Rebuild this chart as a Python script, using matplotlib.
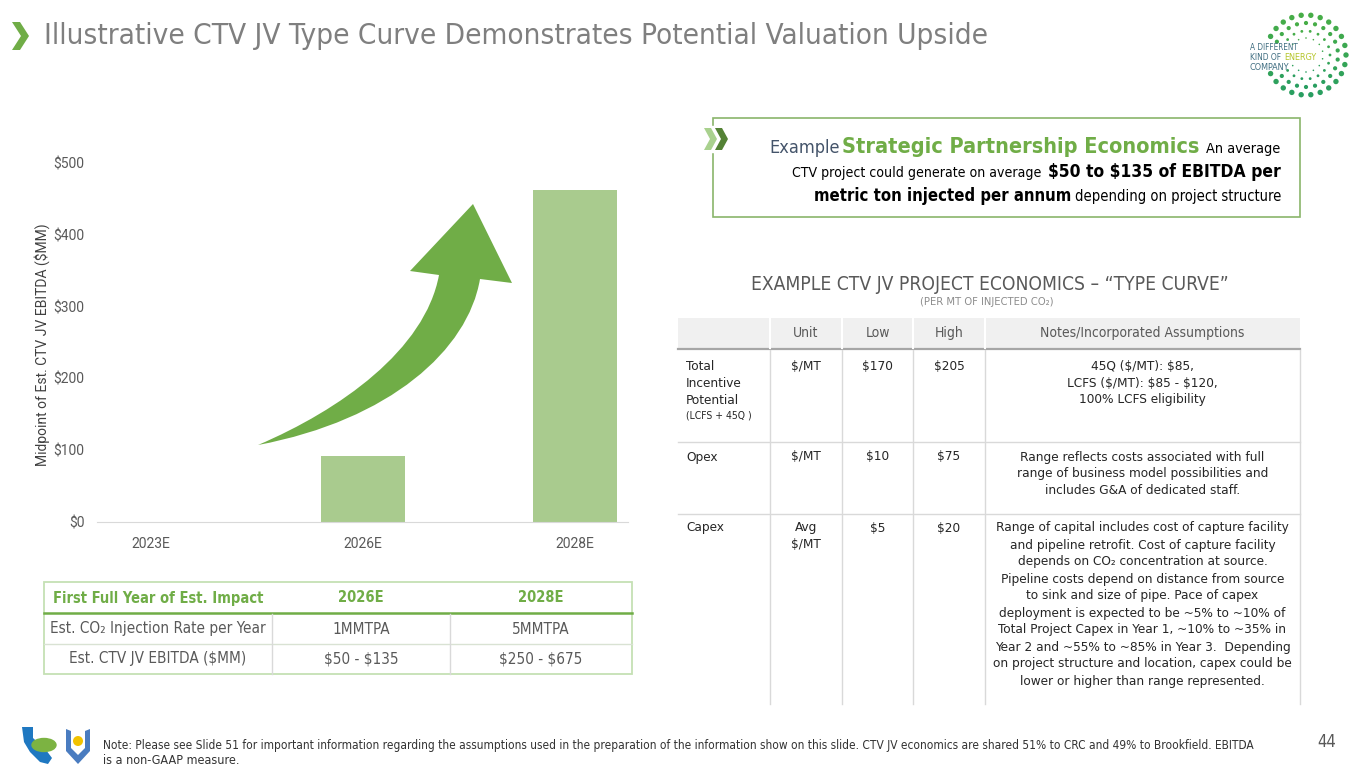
"""Slide 44: illustrative CTV JV type curve (bar chart + two tables + callout)."""
import matplotlib

matplotlib.use("Agg")
import matplotlib.pyplot as plt  # noqa: E402
import numpy as np  # noqa: E402
from matplotlib import font_manager  # noqa: E402
from matplotlib.lines import Line2D  # noqa: E402
from matplotlib.patches import Ellipse, PathPatch, Polygon, Rectangle  # noqa: E402
from matplotlib.path import Path  # noqa: E402

# --- data -------------------------------------------------------------------
years = ["2023E", "2026E", "2028E"]
ebitda_mid = [0, 92.5, 462.5]          # midpoint of est. CTV JV EBITDA, $MM
y_ticks = [0, 100, 200, 300, 400, 500]

impact_header = ["First Full Year of Est. Impact", "2026E", "2028E"]
impact_rows = [
    ["Est. CO₂ Injection Rate per Year", "1MMTPA", "5MMTPA"],
    ["Est. CTV JV EBITDA ($MM)", "$50 - $135", "$250 - $675"],
]

tc_header = ["Unit", "Low", "High", "Notes/Incorporated Assumptions"]
tc_items = [["Total", "Incentive", "Potential"], ["Opex"], ["Capex"]]
tc_units = [["$/MT"], ["$/MT"], ["Avg", "$/MT"]]
tc_low = ["$170", "$10", "$5"]
tc_high = ["$205", "$75", "$20"]
tc_notes = [
    ["45Q ($/MT): $85,", "LCFS ($/MT): $85 - $120,", "100% LCFS eligibility"],
    ["Range reflects costs associated with full",
     "range of business model possibilities and",
     "includes G&A of dedicated staff."],
    ["Range of capital includes cost of capture facility",
     "and pipeline retrofit. Cost of capture facility",
     "depends on CO₂ concentration at source.",
     "Pipeline costs depend on distance from source",
     "to sink and size of pipe. Pace of capex",
     "deployment is expected to be ~5% to ~10% of",
     "Total Project Capex in Year 1, ~10% to ~35% in",
     "Year 2 and ~55% to ~85% in Year 3.  Depending",
     "on project structure and location, capex could be",
     "lower or higher than range represented."],
]

TITLE = "Illustrative CTV JV Type Curve Demonstrates Potential Valuation Upside"
NOTE = ["Note: Please see Slide 51 for important information regarding the assumptions used in the "
        "preparation of the information show on this slide. CTV JV economics are shared 51% to CRC "
        "and 49% to Brookfield. EBITDA",
        "is a non-GAAP measure."]

GREEN = "#70ad47"
BAR = "#a9cb8e"
GREY = "#595959"
INK = "#262626"

# --- fonts ------------------------------------------------------------------
avail = {f.name for f in font_manager.fontManager.ttflist}
COND = "Liberation Sans Narrow" if "Liberation Sans Narrow" in avail else "DejaVu Sans"
REG = "Roboto" if "Roboto" in avail else "DejaVu Sans"
CF = dict(family=[COND, "DejaVu Sans"], stretch="condensed")
RF = dict(family=[REG, "DejaVu Sans"])

W, H = 1365, 768
fig = plt.figure(figsize=(W / 100, H / 100), dpi=100)
renderer = fig.canvas.get_renderer()


def fx(x):
    return x / W


def fy(y):
    return 1 - y / H


def put(x, y, s, size=10, width=None, font=CF, **kw):
    kw.setdefault("va", "center")
    t = fig.text(fx(x), fy(y), s, fontsize=size, parse_math=False, **font, **kw)
    if width:
        t.set_fontsize(size * width / t.get_window_extent(renderer).width)
    return t


def line(xs, ys, color, lw=1.0):
    fig.add_artist(Line2D([fx(v) for v in xs], [fy(v) for v in ys], color=color, lw=lw))


def poly(pts, **kw):
    fig.add_artist(Polygon([(fx(a), fy(b)) for a, b in pts], closed=True,
                           transform=fig.transFigure, **kw))


def dot(x, y, r, color):
    fig.add_artist(Ellipse((fx(x), fy(y)), 2 * r / W, 2 * r / H, color=color, lw=0,
                           transform=fig.transFigure))


# --- title + logo -----------------------------------------------------------
poly([(12, 22), (20, 22), (29, 36), (20, 50), (12, 50), (21, 36)], color=GREEN, lw=0)
put(44, 36, TITLE, size=22, width=943, color="#7f7f7f")

cx, cy = 1306, 55
for ring, (r, n, s) in enumerate(((40, 26, 2.7), (32, 22, 2.1), (24, 18, 1.4), (17, 14, 0.8))):
    for k in range(n):
        deg = (k + 0.5 * (ring % 2)) * 360 / n
        if 158 < deg < 207:
            continue
        a = np.deg2rad(deg)
        shade = 0.5 + 0.5 * np.sin(a)
        col = (0.16 + 0.12 * shade, 0.62 + 0.06 * shade, 0.38 - 0.1 * shade)
        dot(cx + r * np.cos(a), cy - r * np.sin(a), s, col)
put(1250, 47, "A DIFFERENT", size=8, width=48, color="#3f6d80", ha="left")
put(1250, 57.5, "KIND OF", size=8, width=31, color="#3f6d80", ha="left")
put(1284, 57.5, "ENERGY", size=8, width=33, color="#b5c52a", ha="left")
put(1250, 67.5, "COMPANY", size=8, width=40, color="#3f6d80", ha="left")

# --- bar chart --------------------------------------------------------------
ax = fig.add_axes([fx(97), fy(522), (628 - 97) / W, (522 - 163) / H])
xpos = np.arange(len(years))
ax.bar(xpos, ebitda_mid, width=0.4, color=BAR, zorder=2)
ax.set_xlim(-0.255, 2.25)
ax.set_ylim(0, 500)
ax.set_yticks(y_ticks, labels=[f"${v}" for v in y_ticks])
ax.set_xticks(xpos, labels=years)
ax.tick_params(length=0, labelsize=10, colors=GREY)
ax.tick_params(axis="y", pad=9)
ax.tick_params(axis="x", pad=11)
for lbl in ax.get_xticklabels() + ax.get_yticklabels():
    lbl.set_family(RF["family"])
for side in ("top", "right", "left"):
    ax.spines[side].set_visible(False)
ax.spines["bottom"].set_color("#d9d9d9")
put(42, 345, "Midpoint of Est. CTV JV EBITDA ($MM)", size=10, font=RF,
    color="#404040", rotation=90, ha="center")

# curved growth arrow (decoration drawn in slide pixels)
arrow = [(258, 445), (340, 410), (425, 350), (439, 275), (410, 271), (473, 204),
         (512, 283), (480, 279), (468, 350), (390, 420), (258, 445), (258, 445)]
codes = [Path.MOVETO, Path.CURVE4, Path.CURVE4, Path.CURVE4, Path.LINETO, Path.LINETO,
         Path.LINETO, Path.LINETO, Path.CURVE4, Path.CURVE4, Path.CURVE4, Path.CLOSEPOLY]
fig.add_artist(PathPatch(Path([(fx(a), fy(b)) for a, b in arrow], codes),
                         color=GREEN, lw=0, transform=fig.transFigure))

# --- lower-left summary table ---------------------------------------------
fig.add_artist(Rectangle((fx(44), fy(674)), (632 - 44) / W, (674 - 582) / H, fill=False,
                         edgecolor="#c5e0b4", lw=1.3, transform=fig.transFigure))
line([44, 632], [613, 613], GREEN, 1.8)
line([44, 632], [644, 644], "#d9e2d3", 1.0)
for xd in (272, 450):
    line([xd, xd], [614, 674], "#d9d9d9", 1.0)
col_c = [158, 361, 541]
for c, s in zip(col_c, impact_header):
    put(c, 598, s, size=10.5, color=GREEN, weight="bold", ha="center")
for yr, row in zip((629, 659), impact_rows):
    for c, s in zip(col_c, row):
        put(c, yr, s, size=11, color=GREY, ha="center")

# --- callout box ------------------------------------------------------------
fig.add_artist(Rectangle((fx(713), fy(217)), (1300 - 713) / W, (217 - 118) / H, fill=False,
                         edgecolor="#8ab56b", lw=1.2, transform=fig.transFigure))
fig.add_artist(Rectangle((fx(700), fy(152)), 30 / W, 26 / H, color="white",
                         transform=fig.transFigure))
poly([(704, 128), (711, 128), (717, 139), (711, 150), (704, 150), (710, 139)],
     color="#a9d18e", lw=0)
poly([(715, 128), (722, 128), (728, 139), (722, 150), (715, 150), (721, 139)],
     color="#548235", lw=0)
runs = [
    (148, 769, 70, "Example", dict(color="#44546a")),
    (147, 842, 358, "Strategic Partnership Economics", dict(color=GREEN, weight="bold")),
    (149, 1206, 74, "An average", dict(color="black")),
    (173, 792, 248, "CTV project could generate on average", dict(color="black")),
    (172, 1048, 232, "$50 to $135 of EBITDA per", dict(color="black", weight="bold")),
    (196, 814, 256, "metric ton injected per annum", dict(color="black", weight="bold")),
    (197, 1075, 205, "depending on project structure", dict(color="black")),
]
for y, x, w, s, st in runs:
    put(x, y, s, size=12, width=w, ha="left", **st)

# --- type curve table -------------------------------------------------------
put(990, 284, "EXAMPLE CTV JV PROJECT ECONOMICS – “TYPE CURVE”", size=13, width=476,
    color=GREY, ha="center")
put(987, 302, "(PER MT OF INJECTED CO₂)", size=7, width=135, color="#8c8c8c", ha="center")

fig.add_artist(Rectangle((fx(678), fy(349)), (1300 - 678) / W, 31 / H, color="#f0f0f0",
                         lw=0, transform=fig.transFigure))
line([678, 1300], [349, 349], "#a6a6a6", 1.6)
for yl in (442, 514):
    line([678, 1300], [yl, yl], "#d9d9d9", 1.0)
for xd in (770, 842, 913, 985):
    line([xd, xd], [318, 348], "white", 1.5)
    line([xd, xd], [350, 704], "#d9d9d9", 1.0)
line([1300, 1300], [350, 704], "#d9d9d9", 1.0)

tc_cols = [806, 877.5, 949, 1142.5]
for c, s in zip(tc_cols, tc_header):
    put(c, 333, s, size=10, color=GREY, ha="center")
TS, LS = 9.7, 17
row_y = [366, 457, 528]
for i, y0 in enumerate(row_y):
    for j, s in enumerate(tc_items[i]):
        put(686, y0 + j * LS, s, size=TS, color=INK, ha="left")
    for j, s in enumerate(tc_units[i]):
        put(tc_cols[0], y0 + j * LS, s, size=TS, color=INK, ha="center")
    put(tc_cols[1], y0, tc_low[i], size=TS, color=INK, ha="center")
    put(tc_cols[2], y0, tc_high[i], size=TS, color=INK, ha="center")
    for j, s in enumerate(tc_notes[i]):
        put(tc_cols[3], y0 + j * LS, s, size=TS, color=INK, ha="center")
put(686, 416, "(LCFS + 45Q )", size=7.5, color=INK, ha="left")

# --- footer -----------------------------------------------------------------
poly([(22, 727), (33, 727), (33, 738), (46, 750), (52, 758), (48, 764), (40, 762),
      (30, 752), (24, 742)], color="#1f78c1", lw=0)
fig.add_artist(Ellipse((fx(44), fy(745)), 24 / W, 13 / H, color="#7cb342",
                       transform=fig.transFigure))
poly([(66, 729), (71, 731), (71, 748), (78, 755), (85, 748), (85, 731), (90, 729), (90, 751),
      (78, 764), (66, 751)], color="#4a7cc0", lw=0)
dot(78, 741, 5, "#f2c200")

put(103, 745, NOTE[0], size=9, width=1155, color="#333333", ha="left")
put(103, 760, NOTE[1], size=9, color="#333333", ha="left")
put(1327, 742, "44", size=12, color=GREY, ha="center")

fig.savefig("out.png", dpi=100)
